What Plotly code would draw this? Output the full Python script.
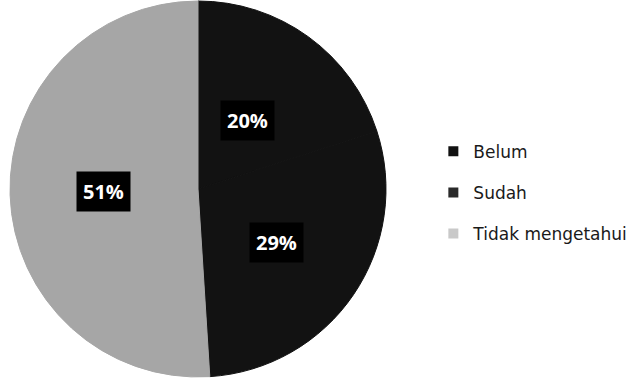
import numpy as np
import plotly.graph_objects as go

# Survey response shares
labels = ["Belum", "Sudah", "Tidak mengetahui"]
values = [20, 29, 51]
slice_colors = ["#121212", "#121212", "#a6a6a6"]
legend_colors = ["#111111", "#2a2a2a", "#c9c9c9"]

fig = go.Figure()
fig.add_trace(
    go.Pie(
        labels=labels,
        values=values,
        sort=False,
        direction="clockwise",
        rotation=0,
        marker=dict(colors=slice_colors, line=dict(width=1, color=slice_colors)),
        textinfo="none",
        hoverinfo="label+percent",
        showlegend=False,
        domain=dict(x=[10 / 642, 386 / 642], y=[0, 1]),
    )
)

# Legend entries as separate groups so the rows can be spaced apart
for name, col in zip(labels, legend_colors):
    fig.add_trace(
        go.Scatter(
            x=[None], y=[None], mode="markers", name=name, legendgroup=name,
            marker=dict(symbol="square", size=10, color=col),
        )
    )

# Percentage labels in black boxes, placed at each slice's mid-angle
total = sum(values)
cx = (10 + 386) / 2 / 642
cy = 0.5
r_px = 189
label_radius = [0.45, 0.5, 0.5]
start = 0.0
for v, rf in zip(values, label_radius):
    frac = v / total
    mid = (start + frac / 2) * 2 * np.pi  # clockwise from 12 o'clock
    start += frac
    dist = rf * r_px
    x = cx + dist * np.sin(mid) / 642
    y = cy + dist * np.cos(mid) / 378
    fig.add_annotation(
        x=x, y=y, xref="paper", yref="paper",
        xanchor="center", yanchor="middle",
        text=f"<b>{round(frac * 100)}%</b>",
        showarrow=False,
        font=dict(family="Open Sans", size=20, color="white"),
        bgcolor="black",
        borderpad=6,
    )

fig.update_layout(
    width=642,
    height=378,
    margin=dict(l=0, r=0, t=0, b=0),
    paper_bgcolor="white",
    plot_bgcolor="white",
    showlegend=True,
    xaxis=dict(visible=False),
    yaxis=dict(visible=False),
    legend=dict(
        x=0.675, y=0.49, xanchor="left", yanchor="middle",
        font=dict(family="DejaVu Sans", size=17, color="#1a1a1a"),
        tracegroupgap=16,
        itemwidth=30,
    ),
)

fig.write_html("out.html")
